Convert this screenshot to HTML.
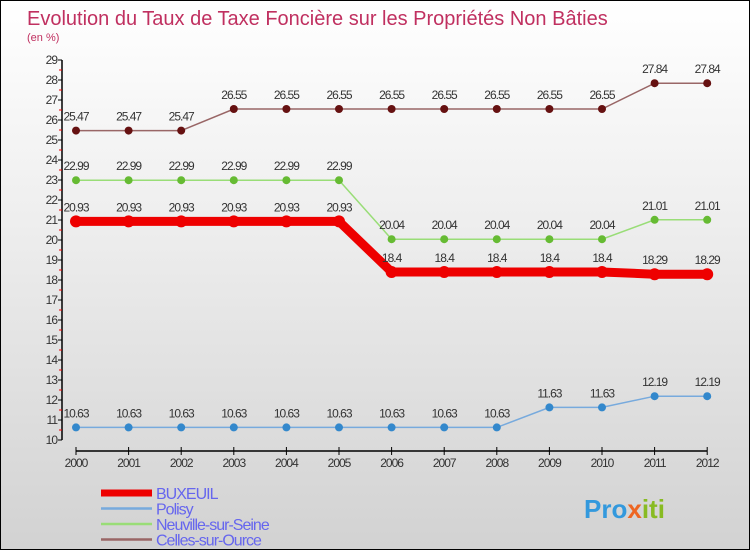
<!DOCTYPE html>
<html><head><meta charset="utf-8"><style>
html,body{margin:0;padding:0}
body{width:750px;height:550px;overflow:hidden;font-family:"Liberation Sans",sans-serif}
#wrap{position:relative;width:748px;height:548px;border:1px solid #000;background:linear-gradient(#ffffff 0%,#eeeeee 40%,#d2d2d2 100%)}
</style></head><body>
<div id="wrap">
<svg id="chart" width="748" height="548" font-family="Liberation Sans, sans-serif">
<text x="26" y="24" font-size="20" fill="#c03060">Evolution du Taux de Taxe Foncière sur les Propriétés Non Bâties</text>
<text x="26" y="40" font-size="11" fill="#c03060">(en %)</text>
<g id="axes"></g><g id="series"></g><g id="legend"></g>
<text x="583" y="517" font-size="26" font-weight="bold" fill="#3399dd">Pro<tspan fill="#ee6622">x</tspan><tspan fill="#88bb22">iti</tspan></text>
</svg>
</div>
<script>
const years=["2000","2001","2002","2003","2004","2005","2006","2007","2008","2009","2010","2011","2012"];
const yTicks=[10,11,12,13,14,15,16,17,18,19,20,21,22,23,24,25,26,27,28,29];
const buxeuil=[20.93,20.93,20.93,20.93,20.93,20.93,18.4,18.4,18.4,18.4,18.4,18.29,18.29];
const polisy=[10.63,10.63,10.63,10.63,10.63,10.63,10.63,10.63,10.63,11.63,11.63,12.19,12.19];
const neuville=[22.99,22.99,22.99,22.99,22.99,22.99,20.04,20.04,20.04,20.04,20.04,21.01,21.01];
const celles=[25.47,25.47,25.47,26.55,26.55,26.55,26.55,26.55,26.55,26.55,26.55,27.84,27.84];
const labels={buxeuil:["20.93","20.93","20.93","20.93","20.93","20.93","18.4","18.4","18.4","18.4","18.4","18.29","18.29"],
polisy:["10.63","10.63","10.63","10.63","10.63","10.63","10.63","10.63","10.63","11.63","11.63","12.19","12.19"],
neuville:["22.99","22.99","22.99","22.99","22.99","22.99","20.04","20.04","20.04","20.04","20.04","21.01","21.01"],
celles:["25.47","25.47","25.47","26.55","26.55","26.55","26.55","26.55","26.55","26.55","26.55","27.84","27.84"]};
const NS="http://www.w3.org/2000/svg";
function X(i){return 75+i*52.6;}
function Y(v){return 439-(v-10)*20;}
function mk(tag,attrs,parent,text){const e=document.createElementNS(NS,tag);for(const k in attrs)e.setAttribute(k,attrs[k]);if(text!==undefined)e.textContent=text;parent.appendChild(e);return e;}
const ax=document.getElementById('axes');
let l=mk('line',{x1:61,y1:Y(29),x2:61,y2:Y(10),stroke:'#000','stroke-width':1.5},ax);


yTicks.forEach(v=>{
 const t=mk('line',{x1:57,y1:Y(v),x2:61,y2:Y(v),stroke:'#000'},ax);
 
 
 if(v<29){const m=mk('line',{x1:58,y1:Y(v+0.5),x2:61,y2:Y(v+0.5),stroke:'#e00'},ax);
 
 }
 const tx=mk('text',{x:56,y:Y(v)+4,'font-size':12,'text-anchor':'end',fill:'#333','letter-spacing':-1},ax,String(v));
 
 
});
l=mk('line',{x1:X(0),y1:450,x2:X(12),y2:450,stroke:'#000','stroke-width':1.5},ax);


years.forEach((y,i)=>{
 const t=mk('line',{x1:X(i),y1:446,x2:X(i),y2:454,stroke:'#000'},ax);
 
 
 const tx=mk('text',{x:X(i),y:466,'font-size':12,'text-anchor':'middle',fill:'#333','letter-spacing':-1},ax,y);
 
 
});
const sg=document.getElementById('series');
function series(name,data,lab,color,dot,w,r){
 const g=mk('g',{},sg);
 
 
 const p=mk('polyline',{points:data.map((v,i)=>X(i)+','+Y(v)).join(' '),fill:'none',stroke:color,'stroke-width':w},g);
 
 
 data.forEach((v,i)=>{
  const c=mk('circle',{cx:X(i),cy:Y(v),r:r,fill:dot},g);
  
  
  const t=mk('text',{x:X(i),y:Y(v)-10,'font-size':12,'text-anchor':'middle',fill:'#333','letter-spacing':-1},g,lab[i]);
  
  
 });
}
series('celles-sur-ource',celles,labels.celles,'#996666','#661111',1.5,4);
series('neuville-sur-seine',neuville,labels.neuville,'#99dd77','#66bb33',1.5,4);
series('polisy',polisy,labels.polisy,'#77aadd','#3388cc',1.5,4);
series('buxeuil',buxeuil,labels.buxeuil,'#ee0000','#ee0000',9,6);
const lg=document.getElementById('legend');
[['BUXEUIL','#ee0000',7],['Polisy','#77aadd',2.5],['Neuville-sur-Seine','#99dd77',2.5],['Celles-sur-Ource','#996666',2.5]].forEach((d,i)=>{
 const y=492+i*15.5;
 const ln=mk('line',{x1:100,y1:y,x2:151,y2:y,stroke:d[1],'stroke-width':d[2]},lg);
 
 
 const t=mk('text',{x:155,y:y+6,'font-size':16,fill:'#6666ee','letter-spacing':-1},lg,d[0]);
 
 
});
</script>
</body></html>
